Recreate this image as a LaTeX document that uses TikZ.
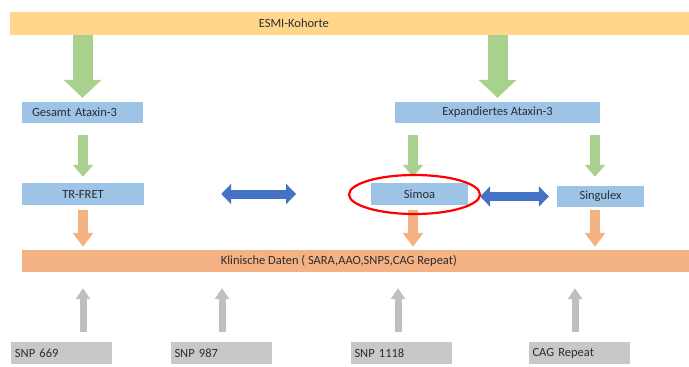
\documentclass[tikz,border=0pt]{standalone}
\usepackage{fontspec}
\setmainfont{Carlito}
\usetikzlibrary{
  arrows.meta,
  calc,
}
\definecolor{barorange}{RGB}{255,214,140}
\definecolor{boxblue}{RGB}{157,195,230}
\definecolor{arrgreen}{RGB}{169,209,142}
\definecolor{salmon}{RGB}{244,177,131}
\definecolor{darkblue}{RGB}{68,114,196}
\definecolor{boxgray}{RGB}{200,200,200}
\definecolor{arrgray}{RGB}{191,191,191}
\definecolor{txt}{RGB}{45,45,50}

\begin{document}
\begin{tikzpicture}[x=1pt,y=-1pt,
  every node/.style={text=txt,font=\fontsize{12.5}{14}\selectfont},
  bluebox/.style={fill=boxblue,minimum height=21pt,inner sep=0pt},
  graybox/.style={fill=boxgray,minimum height=22pt,inner xsep=4pt,
    inner ysep=0pt,text width=93pt,align=left},
  bigarr/.style={arrgreen,line width=20pt,-{Triangle[length=18pt,width=37pt]}},
  greenarr/.style={arrgreen,line width=10pt,-{Triangle[length=12pt,width=20pt]}},
  salmarr/.style={salmon,line width=10pt,-{Triangle[length=14pt,width=20pt]}},
  grayarr/.style={arrgray,line width=7pt,-{Triangle[length=11pt,width=14pt]}},
  bluearr/.style={darkblue,line width=9pt,
    {Triangle[length=10pt,width=20pt]}-{Triangle[length=10pt,width=20pt]}},
]
\useasboundingbox (0,0) rectangle (689,367);

% bars
\node[fill=barorange,minimum width=679pt,minimum height=23pt,inner sep=0pt]
  (esmi) at (349.5,23.5) {};
\node at ($(esmi.west)+(284,0)$) {ESMI-Kohorte};
\node[fill=salmon,minimum width=667pt,minimum height=22pt,inner sep=0pt]
  (klin) at (355.5,261) {};
\node at ($(klin.west)+(317,0)$) {Klinische Daten ( SARA,AAO,SNPS,CAG Repeat)};

% boxes
\node[bluebox,minimum width=121pt,inner xsep=10pt,text width=101pt,align=left]
  (gesamt) at (82.5,112.5) {Gesamt Ataxin-3};
\node[bluebox,minimum width=205pt] (expand) at (497.5,112.5) {Expandiertes Ataxin-3};
\node[bluebox,minimum width=122pt,minimum height=22pt] (trfret) at (83,194) {TR-FRET};
\node[bluebox,minimum width=97pt,minimum height=22pt] (simoa) at (419.5,194) {Simoa};
\node[bluebox,minimum width=87pt] (singulex) at (600.5,196.5) {Singulex};
\node[graybox] (snpa) at (61.5,353) {SNP 669};
\node[graybox] (snpb) at (221,353) {SNP 987};
\node[graybox] (snpc) at (401,353) {SNP 1118};
\node[graybox] (cag) at (579,353) {CAG Repeat};

\coordinate (sx) at ([xshift=-6.5pt]simoa.north);
\coordinate (gx) at ([xshift=-5.5pt]singulex.north);
\coordinate (ax) at (snpa.north -| trfret.south);
\coordinate (bx) at ([xshift=1pt]snpb.north);
\coordinate (cx) at ([xshift=-3pt]snpc.north);
\coordinate (dx) at ([xshift=-4pt]cag.north);

% arrows
\draw[bigarr,shorten >=4pt] (esmi.south -| gesamt.north) -- (gesamt.north);
\draw[bigarr,shorten >=4pt] (esmi.south -| expand.north) -- (expand.north);
\draw[greenarr,shorten <=12pt,shorten >=6pt] (gesamt.south -| trfret.north) -- (trfret.north);
\draw[greenarr,shorten <=12pt,shorten >=6pt] (expand.south -| sx) -- (sx);
\draw[greenarr,shorten <=12pt,shorten >=9pt] (expand.south -| gx) -- (gx);
\draw[salmarr,shorten <=5pt,shorten >=3pt] (trfret.south) -- (klin.north -| trfret.south);
\draw[salmarr,shorten <=5pt,shorten >=3pt] (simoa.south -| sx) -- (klin.north -| sx);
\draw[salmarr,shorten <=3pt,shorten >=3pt] (singulex.south -| gx) -- (klin.north -| gx);
\draw[bluearr] ($(trfret.east)!.34!(simoa.west)$) -- ($(trfret.east)!.67!(simoa.west)$);
\draw[bluearr,shorten <=12pt,shorten >=8pt] (simoa.east |- singulex.west) -- (singulex.west);
\foreach \c in {ax,bx,cx,dx}
  \draw[grayarr,shorten <=10pt,shorten >=16pt] (\c) -- (klin.south -| \c);

% highlight
\draw[red,line width=2.2pt] ($(simoa.center)+(-5,0.5)$) ellipse [x radius=65.5pt,y radius=19.5pt];
\end{tikzpicture}
\end{document}
